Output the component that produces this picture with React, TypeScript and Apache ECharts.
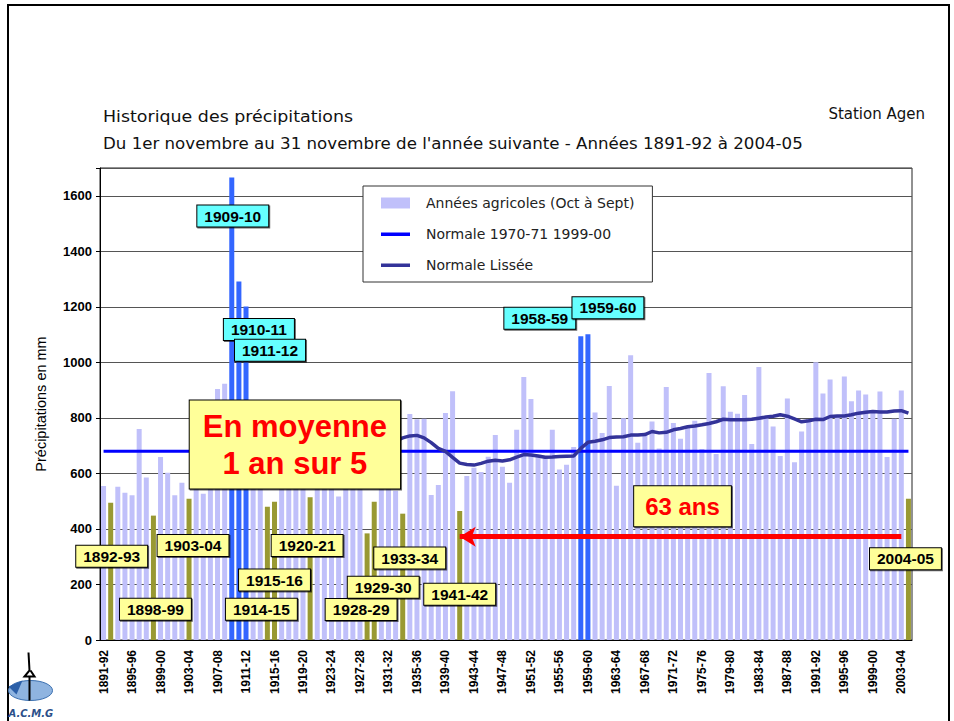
import React, { useEffect, useRef } from "react";
import * as echarts from "echarts";

// Categories: agricultural years 1891-92 ... 2004-05
const categories: string[] = [];
for (let y = 1891; y <= 2004; y++) {
  categories.push(`${y}-${String((y + 1) % 100).padStart(2, "0")}`);
}

// Precipitation totals (mm)
const precipitation: number[] = [
  555, 494, 552, 530, 521, 760, 585, 448, 659, 602,
  521, 566, 509, 600, 527, 640, 904, 923, 1666, 1291,
  1201, 700, 620, 480, 498, 680, 600, 650, 590, 514,
  660, 720, 610, 517, 640, 700, 580, 384, 498, 650,
  700, 538, 455, 814, 795, 797, 522, 558, 818, 896,
  465, 591, 620, 605, 660, 738, 624, 566, 757, 947,
  868, 667, 660, 757, 614, 631, 695, 1094, 1101, 819,
  746, 915, 556, 799, 1026, 710, 740, 787, 690, 911,
  782, 725, 765, 790, 688, 962, 670, 914, 822, 815,
  882, 706, 983, 803, 769, 663, 870, 640, 751, 795,
  1000, 888, 938, 805, 949, 860, 899, 884, 820, 895,
  659, 797, 899, 509,
];

// Smoothed normal (running mean), starts in 1920-21
const smoothedStart: (number | null)[] = new Array(29).fill(null);
const smoothedValues: number[] = [
  698, 700, 705, 705, 710, 710, 712, 712, 714, 715, 715, 716,
  717, 728, 735, 737, 728, 711, 690, 679, 658, 637,
  632, 630, 636, 644, 647, 645, 649, 659, 668, 666,
  663, 658, 659, 661, 662, 663, 690, 712, 716, 721,
  729, 731, 732, 738, 738, 740, 751, 746, 748, 757,
  762, 768, 771, 775, 780, 786, 795, 793, 793, 793,
  795, 799, 803, 806, 811, 806, 796, 786, 790, 795,
  794, 805, 807, 807, 811, 817, 820, 823, 821, 821,
  825, 826, 817,
];
const smoothed = smoothedStart.concat(smoothedValues);

const normale1971_2000 = 680;

const dryYears = [
  "1892-93", "1898-99", "1903-04", "1914-15", "1915-16", "1920-21",
  "1928-29", "1929-30", "1933-34", "1941-42", "2004-05",
];
const wetYears = ["1909-10", "1910-11", "1911-12", "1958-59", "1959-60"];

// Callout placement (category, y value in mm, x offset px)
const callouts = [
  { cat: "1909-10", y: 1527, dx: 1 },
  { cat: "1910-11", y: 1118, dx: 20 },
  { cat: "1911-12", y: 1044, dx: 24 },
  { cat: "1958-59", y: 1159, dx: -41 },
  { cat: "1959-60", y: 1197, dx: 20 },
  { cat: "1892-93", y: 302, dx: 1 },
  { cat: "1898-99", y: 111, dx: 2 },
  { cat: "1903-04", y: 340, dx: 4 },
  { cat: "1914-15", y: 111, dx: -6 },
  { cat: "1915-16", y: 216, dx: 0 },
  { cat: "1920-21", y: 340, dx: -3 },
  { cat: "1928-29", y: 110, dx: -6 },
  { cat: "1929-30", y: 190, dx: 9 },
  { cat: "1933-34", y: 295, dx: 7 },
  { cat: "1941-42", y: 165, dx: 0 },
  { cat: "2004-05", y: 293, dx: -3 },
];

const LIGHT = "#C0C0FA";
const DRY = "#999933";
const WET = "#3366FF";

// legend icon: thin horizontal bar inside a 30x11 box
const LINE_ICON = "path://M0,0 L0.01,0 L0.01,0.01 Z M0,4 L30,4 L30,7.5 L0,7.5 Z M30,11 L29.99,11 L29.99,10.99 Z";

export default function App() {
  const ref = useRef<HTMLDivElement>(null);

  useEffect(() => {
    if (!ref.current) return;
    const chart = echarts.init(ref.current, undefined, { renderer: "svg" });

    const barData = precipitation.map((v, i) => {
      const c = categories[i];
      let color = LIGHT;
      if (dryYears.includes(c)) color = DRY;
      if (wetYears.includes(c)) color = WET;
      return { value: v, itemStyle: { color } };
    });

    const shadow = {
      shadowColor: "rgba(0,0,0,0.6)",
      shadowOffsetX: 1,
      shadowOffsetY: 1,
      shadowBlur: 0,
    };

    const boxLabel = (text: string, wet: boolean, dx: number) => ({
      show: true,
      position: "inside",
      formatter: text,
      offset: [dx, 0],
      fontFamily: "Liberation Sans",
      fontWeight: "bold",
      fontSize: 15.5,
      lineHeight: 17,
      color: "#000",
      backgroundColor: wet ? "#66FFFF" : "#FFFF99",
      borderColor: "#000",
      borderWidth: 1,
      padding: [2, 7, 2, 7],
      ...shadow,
    });

    const markPoints: any[] = callouts.map((c) => ({
      coord: [c.cat, c.y],
      value: c.cat,
      label: boxLabel(c.cat, wetYears.includes(c.cat), c.dx),
    }));
    markPoints.push({
      coord: ["1918-19", 704],
      value: "moy",
      label: {
        show: true,
        position: "inside",
        formatter: "En moyenne\n1 an sur 5",
        offset: [-1, 0],
        align: "center",
        fontFamily: "Liberation Sans",
        fontWeight: "bold",
        fontSize: 31,
        lineHeight: 37,
        color: "#FF0000",
        backgroundColor: "#FFFF99",
        borderColor: "#000",
        borderWidth: 1,
        padding: [7, 13, 7, 13],
        ...shadow,
      },
    });
    markPoints.push({
      coord: ["1972-73", 482],
      value: "63",
      label: {
        show: true,
        position: "inside",
        formatter: "63 ans",
        offset: [2, 0],
        fontFamily: "Liberation Sans",
        fontWeight: "bold",
        fontSize: 24,
        lineHeight: 26,
        color: "#FF0000",
        backgroundColor: "#FFFF99",
        borderColor: "#000",
        borderWidth: 1,
        padding: [7, 11, 7, 11],
        ...shadow,
      },
    });

    const option: any = {
      animation: false,
      backgroundColor: "#fff",
      grid: {
        left: 100,
        right: 42,
        top: 168,
        bottom: 81,
        show: true,
        borderColor: "#222",
        borderWidth: 1,
        backgroundColor: "transparent",
      },
      legend: {
        orient: "vertical",
        left: 363,
        top: 186,
        itemWidth: 29,
        itemHeight: 11,
        itemGap: 17,
        padding: [10, 18, 10, 18],
        backgroundColor: "#fff",
        borderColor: "#333",
        borderWidth: 1,
        textStyle: {
          fontFamily: "DejaVu Sans",
          fontSize: 14,
          lineHeight: 14,
          color: "#222",
          padding: [0, 0, 0, 11],
        },
        data: [
          { name: "Années agricoles (Oct à Sept)", icon: "rect" },
          { name: "Normale 1970-71 1999-00", icon: LINE_ICON },
          { name: "Normale Lissée", icon: LINE_ICON },
        ],
      },
      xAxis: {
        type: "category",
        data: categories,
        boundaryGap: true,
        axisLine: { lineStyle: { color: "#000", width: 1 } },
        axisTick: { interval: 0, length: 5, lineStyle: { color: "#000" } },
        axisLabel: {
          interval: 3,
          rotate: 90,
          fontFamily: "Liberation Sans",
          fontWeight: "bold",
          fontSize: 12,
          color: "#000",
          margin: 10,
        },
        splitLine: { show: false },
      },
      yAxis: {
        type: "value",
        min: 0,
        max: 1700,
        interval: 200,
        name: "Précipitations en mm",
        nameLocation: "middle",
        nameGap: 52,
        nameTextStyle: {
          fontFamily: "Liberation Sans",
          fontSize: 14.5,
          color: "#000",
        },
        axisLine: { show: true, lineStyle: { color: "#000" } },
        axisTick: { show: true, length: 4, lineStyle: { color: "#000" } },
        axisLabel: {
          formatter: (v: number) => (v > 1600 ? "" : String(v)),
          fontFamily: "Liberation Sans",
          fontWeight: "bold",
          fontSize: 13,
          color: "#000",
          margin: 8,
        },
        splitLine: { lineStyle: { color: "#555", width: 1 } },
      },
      series: [
        {
          name: "Années agricoles (Oct à Sept)",
          type: "bar",
          data: barData,
          barWidth: 5,
          itemStyle: { color: LIGHT },
          z: 2,
        },
        {
          name: "Normale 1970-71 1999-00",
          type: "line",
          data: categories.map(() => normale1971_2000),
          symbol: "none",
          lineStyle: { color: "#0000FF", width: 3 },
          itemStyle: { color: "#0000FF" },
          z: 3,
        },
        {
          name: "Normale Lissée",
          type: "line",
          data: smoothed,
          symbol: "none",
          connectNulls: false,
          lineStyle: { color: "#333399", width: 3.5 },
          itemStyle: { color: "#333399" },
          z: 4,
        },
        {
          name: "annotations",
          type: "scatter",
          data: [],
          silent: true,
          z: 10,
          markLine: {
            silent: true,
            z: 15,
            symbol: ["none", "arrow"],
            symbolSize: [15, 16],
            label: { show: false },
            lineStyle: { color: "#FF0000", width: 5, type: "solid" },
            data: [[{ coord: ["2003-04", 372] }, { coord: ["1941-42", 372] }]],
          },
          markPoint: {
            silent: true,
            z: 20,
            symbol: "rect",
            symbolSize: 1,
            itemStyle: { color: "rgba(0,0,0,0)" },
            data: markPoints,
          },
        },
      ],
      graphic: [
        {
          type: "rect",
          silent: true,
          shape: { x: 8, y: 5, width: 941, height: 760 },
          style: { fill: "none", stroke: "#000", lineWidth: 2 },
          z: -1,
        },
        {
          type: "text",
          x: 103,
          y: 108,
          scaleX: 1.09,
          style: {
            text: "Historique des précipitations",
            font: "16px 'DejaVu Sans'",
            fill: "#111",
          },
        },
        {
          type: "text",
          right: 29,
          top: 106,
          style: {
            text: "Station Agen",
            font: "15px 'DejaVu Sans'",
            fill: "#111",
          },
        },
        {
          type: "text",
          x: 103,
          y: 136,
          scaleX: 1.11,
          style: {
            text: "Du 1er novembre au 31 novembre de l'année suivante - Années 1891-92 à 2004-05",
            font: "15px 'DejaVu Sans'",
            fill: "#111",
          },
        },
        {
          type: "group",
          left: 8,
          top: 650,
          children: [
            { type: "ellipse", shape: { cx: 32, cy: 40, rx: 22, ry: 10 }, style: { fill: "#8fb4e0", stroke: "#3a6fb0", lineWidth: 1 } },
            { type: "polyline", shape: { points: [[30, 2], [31, 20], [26, 26], [36, 26], [32, 20]] }, style: { stroke: "#000", lineWidth: 2, fill: "none" } },
            { type: "line", shape: { x1: 31, y1: 26, x2: 31, y2: 50 }, style: { stroke: "#000", lineWidth: 2 } },
            { type: "polygon", shape: { points: [[10, 36], [24, 30], [18, 44]] }, style: { fill: "#2b5fa8" } },
            { type: "text", x: 10, y: 58, style: { text: "A.C.M.G", font: "italic bold 10px 'DejaVu Sans'", fill: "#2b4f8a" } },
          ],
        },
      ],
    };

    chart.setOption(option);
    return () => chart.dispose();
  }, []);

  return (
    <div
      ref={ref}
      style={{ position: "fixed", left: 0, top: 0, width: 954, height: 721, background: "#fff" }}
    />
  );
}
